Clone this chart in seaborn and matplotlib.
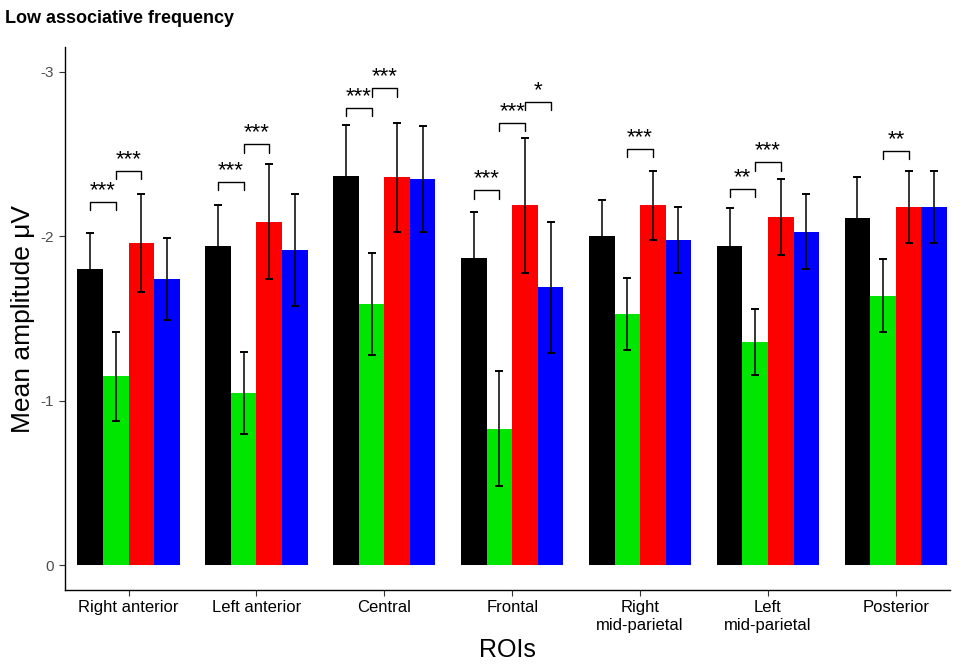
import numpy as np
import pandas as pd
import matplotlib
matplotlib.use("Agg")
import matplotlib.pyplot as plt
import seaborn as sns

rois = ["Right anterior", "Left anterior", "Central", "Frontal",
        "Right\nmid-parietal", "Left\nmid-parietal", "Posterior"]
conds = ["c1", "c2", "c3", "c4"]
colors = ["#000000", "#00E600", "#FF0000", "#0000FF"]

# mean amplitudes (uV) per condition, one value per ROI
mean_c1 = [-1.80, -1.94, -2.37, -1.87, -2.00, -1.94, -2.11]
mean_c2 = [-1.15, -1.05, -1.59, -0.83, -1.53, -1.36, -1.64]
mean_c3 = [-1.96, -2.09, -2.36, -2.19, -2.19, -2.12, -2.18]
mean_c4 = [-1.74, -1.92, -2.35, -1.69, -1.98, -2.03, -2.18]

se_c1 = [0.22, 0.25, 0.31, 0.28, 0.22, 0.23, 0.25]
se_c2 = [0.27, 0.25, 0.31, 0.35, 0.22, 0.20, 0.22]
se_c3 = [0.30, 0.35, 0.33, 0.41, 0.21, 0.23, 0.22]
se_c4 = [0.25, 0.34, 0.32, 0.40, 0.20, 0.23, 0.22]

# significance brackets: roi index, first cond, second cond, height, label
sig_roi = [0, 0, 1, 1, 2, 2, 3, 3, 3, 4, 5, 5, 6]
sig_a = [0, 1, 0, 1, 0, 1, 0, 1, 2, 1, 0, 1, 1]
sig_b = [1, 2, 1, 2, 1, 2, 1, 2, 3, 2, 1, 2, 2]
sig_y = [-2.21, -2.40, -2.33, -2.56, -2.78, -2.90, -2.28, -2.69, -2.82,
         -2.53, -2.29, -2.45, -2.52]
sig_lab = ["***", "***", "***", "***", "***", "***", "***", "***", "*",
           "***", "**", "***", "**"]

means = [mean_c1, mean_c2, mean_c3, mean_c4]
ses = [se_c1, se_c2, se_c3, se_c4]

df = pd.DataFrame({
    "roi": np.tile(rois, 4),
    "cond": np.repeat(conds, len(rois)),
    "amp": np.concatenate(means),
})

sns.set_style("white")
plt.rcParams["font.family"] = ["Liberation Sans", "DejaVu Sans"]
plt.rcParams["axes.unicode_minus"] = False
plt.rcParams["text.color"] = "black"
plt.rcParams["axes.labelcolor"] = "black"

fig = plt.figure(figsize=(9.65, 6.66), dpi=100)
ax = fig.add_axes([0.067, 0.114, 0.917, 0.815])

sns.barplot(data=df, x="roi", y="amp", hue="cond", order=rois,
            hue_order=conds, palette=colors, errorbar=None,
            saturation=1, linewidth=0, legend=False, ax=ax)

# bar centres, taken before errorbar adds its own containers
bar_conts = list(ax.containers)
centers = [[b.get_x() + b.get_width() / 2 for b in cont] for cont in bar_conts]

for i in range(len(conds)):
    ax.errorbar(centers[i], means[i], yerr=ses[i], fmt="none", ecolor="black",
                elinewidth=1.1, capsize=2.6, capthick=1.4, zorder=3)

drop = 0.05
for r, a, b, y, lab in zip(sig_roi, sig_a, sig_b, sig_y, sig_lab):
    x1, x2 = centers[a][r], centers[b][r]
    ax.plot([x1, x1, x2, x2], [y + drop, y, y, y + drop], color="black", lw=1)
    ax.text((x1 + x2) / 2, y - 0.005, lab, ha="center", va="bottom",
            fontsize=16, color="black")

ax.set_ylim(0.15, -3.15)
ax.set_xlim(-0.5, 6.42)
ax.set_yticks([0, -1, -2, -3])
ax.set_yticklabels(["0", "-1", "-2", "-3"])
ax.tick_params(axis="y", labelsize=11, labelcolor="#4d4d4d", length=4,
               width=0.8, left=True, color="#333333")
ax.tick_params(axis="x", labelsize=12, labelcolor="black", length=4,
               width=0.8, bottom=True, color="#333333")
for s in ["top", "right"]:
    ax.spines[s].set_visible(False)
for s in ["left", "bottom"]:
    ax.spines[s].set_color("black")
    ax.spines[s].set_linewidth(1)

ax.set_xlabel("ROIs", fontsize=18)
ax.set_ylabel("Mean amplitude \u03bcV", fontsize=19)

fig.text(0.005, 0.985, "Low associative frequency", fontsize=13,
         fontweight="bold", ha="left", va="top")

fig.savefig("out.png", dpi=100)
